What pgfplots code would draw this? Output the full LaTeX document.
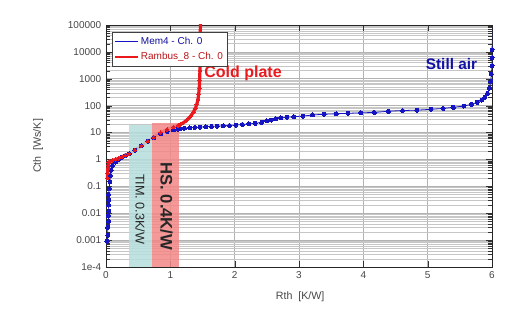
\documentclass[border=0pt]{standalone}
\usepackage{pgfplots}
\pgfplotsset{compat=1.18}
\usepackage{fontspec}
\setmainfont{Liberation Sans}
\definecolor{bl}{RGB}{20,20,195}
\definecolor{rd}{RGB}{235,25,30}
\definecolor{timc}{RGB}{182,222,220}
\definecolor{hsc}{RGB}{243,135,135}
\definecolor{tk}{RGB}{70,70,70}
\begin{document}
\begin{tikzpicture}
\path[use as bounding box] (-79.5pt,-42pt) rectangle (313.5pt,200.25pt);
\begin{axis}[
  at={(0,0)}, anchor=south west, scale only axis,
  width=289.5pt, height=181.5pt,
  xmin=0, xmax=6, ymin=1e-4, ymax=1e5, ymode=log,
  xtick={0,1,2,3,4,5,6},
  ytick={1e-4,1e-3,1e-2,1e-1,1,10,100,1000,10000,100000},
  yticklabels={1e-4,0.001,0.01,0.1,1,10,100,1000,10000,100000},
  /pgf/number format/assume math mode=true,
  tick label style={font=\fontsize{7.5}{9}\selectfont, text=tk},
  grid=both,
  minor x tick num=0,
  major grid style={gray!60, line width=0.5pt},
  minor grid style={gray!45, line width=0.45pt},
  axis line style={black!85, line width=0.7pt},
  tick style={black!80},
  xlabel={Rth\ \ [K/W]},
  ylabel={Cth\ \ [Ws/K]},
  label style={font=\fontsize{8}{10}\selectfont, text=tk},
  xlabel style={at={(axis description cs:0.503,-0.124)}, anchor=center},
  ylabel style={at={(axis description cs:-0.176,0.5)}, anchor=center},
  legend style={at={(axis description cs:0.0155,0.971)}, anchor=north west,
    draw=black!75, line width=0.7pt, font=\fontsize{7.5}{9}\selectfont,
    inner sep=1.5pt, row sep=0.5pt, fill=white},
  legend cell align=left,
]
% Mem4 - still air
\addplot[bl, line width=0.6pt, mark=*, mark size=1.5pt, mark options={line width=0pt}, forget plot] coordinates {
(0.015,0.0009)(0.03,0.0015)(0.025,0.003)(0.04,0.005)(0.035,0.008)(0.045,0.012)
(0.04,0.02)(0.045,0.03)(0.04,0.05)(0.05,0.08)(0.06,0.15)(0.07,0.25)(0.08,0.4)
(0.1,0.6)(0.15,0.8)(0.2,1.0)(0.25,1.2)(0.3,1.4)(0.36,1.6)(0.45,2.2)(0.55,3.2)
(0.65,4.8)(0.74,6.5)(0.85,9)(0.95,11)(1.05,12.5)(1.12,13.5)
(1.15,14)(1.22,14.5)(1.3,15)(1.38,15.5)(1.46,16)(1.55,16.5)(1.64,17)(1.73,17.3)
(1.82,17.8)(1.92,18.3)(2.02,19)(2.12,20)(2.22,21)(2.32,22)(2.42,24)(2.5,27)
(2.57,29)(2.64,32)(2.72,35)(2.81,37)(2.92,39)(3.06,41)(3.21,45)(3.39,48)
(3.58,50)(3.76,52)(3.96,54)(4.17,56)(4.39,62)(4.61,66)(4.83,68)(5.05,73)
(5.24,79)(5.40,87)(5.56,97)(5.68,112)(5.77,133)(5.84,162)(5.89,204)(5.93,290)
(5.96,450)(5.98,800)(5.99,1500)(6.0,3000)(6.0,6000)(6.0,12000)(6.005,25000)
(6.01,50000)(6.01,80000)
};
% Rambus_8 - cold plate
\addplot[rd, line width=2.4pt, mark=*, mark size=1.3pt, mark options={line width=0pt}, forget plot] coordinates {
(0.02,0.2)(0.025,0.3)(0.03,0.45)(0.035,0.6)(0.04,0.75)(0.06,0.85)(0.1,0.9)
(0.15,1.0)(0.2,1.1)(0.25,1.25)(0.3,1.4)(0.36,1.6)(0.45,2.2)(0.55,3.2)(0.65,4.8)
(0.74,6.5)(0.85,10)(0.95,13)(1.05,16)(1.12,18.5)(1.16,20)(1.2,23)(1.24,27)
(1.28,33)(1.32,42)(1.36,58)(1.39,80)(1.41,110)(1.43,170)(1.44,260)(1.45,450)
(1.455,900)(1.46,2000)(1.46,5000)(1.462,15000)(1.465,50000)(1.47,150000)
};
% TIM and HS regions
\addplot[fill=timc, draw=none, fill opacity=0.86, forget plot] coordinates {
(0.36,1e-4)(0.36,19)(0.72,19)(0.72,1e-4)} -- cycle;
\addplot[fill=hsc, draw=none, fill opacity=0.86, forget plot] coordinates {
(0.72,1e-4)(0.72,23)(1.14,23)(1.14,1e-4)} -- cycle;
\addlegendimage{bl, line width=0.8pt}
\addlegendentry{\textcolor{bl!80!black}{Mem4 - Ch. 0}}
\addlegendimage{rd, line width=0.8pt}
\addlegendentry{\textcolor{rd!80!black}{Rambus\_8 - Ch. 0}}
\node[rotate=-90, font=\fontsize{9.5}{11}\selectfont, text=black!85] at (axis cs:0.53,0.014) {TIM. 0.3K/W};
\node[rotate=-90, font=\fontsize{12.5}{14}\selectfont\bfseries, text=black!85] at (axis cs:0.94,0.018) {HS. 0.4K/W};
\node[font=\fontsize{12}{14}\selectfont\bfseries, text=rd] at (axis cs:2.13,1630) {Cold plate};
\node[font=\fontsize{11.5}{14}\selectfont\bfseries, text=bl!85!black] at (axis cs:5.37,3550) {Still air};
\end{axis}
\end{tikzpicture}
\end{document}
